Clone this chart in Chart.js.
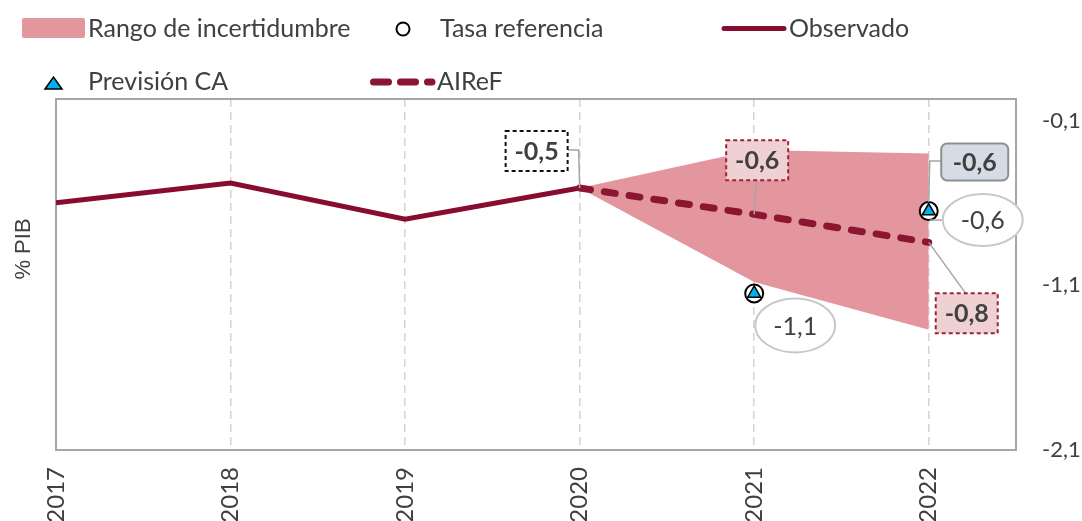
<!DOCTYPE html>
<html>
<head>
<meta charset="utf-8">
<script src="https://cdn.jsdelivr.net/npm/chart.js@4/dist/chart.umd.min.js"></script>
<style>
    html, body { margin: 0; padding: 0; background: #fff; }
    #wrap { width: 1082px; height: 521px; }
</style>
</head>
<body>
<div id="wrap"><canvas id="deficitChart" width="1082" height="521"></canvas></div>
<script>
"use strict";

// years on the x axis
const years = [2017, 2018, 2019, 2020, 2021, 2022];
// Observado, 2017-2020
const obsYears = [2017, 2018, 2019, 2020];
const observado = [-0.60, -0.48, -0.70, -0.51];
// AIReF forecast and uncertainty band, 2020-2022
const fcYears = [2020, 2021, 2022];
const aireF = [-0.51, -0.67, -0.84];
const rangoSup = [-0.51, -0.28, -0.30];
const rangoInf = [-0.51, -1.08, -1.37];
// Previsión CA and Tasa referencia, 2021-2022
const caYears = [2021, 2022];
const previsionCA = [-1.15, -0.65];
const tasaReferencia = [-1.15, -0.65];
// right axis ticks
const yTicks = [-0.1, -1.1, -2.1];
// callout texts
const lblObs2020 = '-0,5';
const lblAiref = ['-0,6', '-0,8'];
const lblCA2022 = '-0,6';
const lblTasa = ['-1,1', '-0,6'];

const FONT = 'Lato, "Open Sans", sans-serif';
const TXT = '#404040';
const BAND = '#e3969e';
const OBS = '#870c2f';
const AIREF = '#8c1632';
const CA_BLUE = '#00b0f0';

const pts = (xs, ys) => xs.map((x, i) => ({ x: x, y: ys[i] }));

function roundRect(ctx, x, y, w, h, r) {
    ctx.beginPath();
    ctx.moveTo(x + r, y);
    ctx.arcTo(x + w, y, x + w, y + h, r);
    ctx.arcTo(x + w, y + h, x, y + h, r);
    ctx.arcTo(x, y + h, x, y, r);
    ctx.arcTo(x, y, x + w, y, r);
    ctx.closePath();
}

const frame = {
    id: 'frame',
    beforeDatasetsDraw(chart) {
        const { ctx, chartArea: a } = chart;
        ctx.save();
        ctx.strokeStyle = '#a6a6a6';
        ctx.lineWidth = 2;
        ctx.strokeRect(a.left, a.top, a.right - a.left, a.bottom - a.top);
        ctx.restore();
    }
};

const callouts = {
    id: 'callouts',
    afterDatasetsDraw(chart) {
        const { ctx, scales: { x, y } } = chart;
        const P = (xv, yv) => ({ x: x.getPixelForValue(xv), y: y.getPixelForValue(yv) });

        const leader = (path) => {
            ctx.save();
            ctx.strokeStyle = '#a6a6a6';
            ctx.lineWidth = 1.5;
            ctx.beginPath();
            path.forEach((p, i) => i ? ctx.lineTo(p[0], p[1]) : ctx.moveTo(p[0], p[1]));
            ctx.stroke();
            ctx.restore();
        };

        const box = (cx, cy, w, h, text, style) => {
            ctx.save();
            const l = cx - w / 2, t = cy - h / 2;
            if (style === 'blue') {
                roundRect(ctx, l, t, w, h, 6);
                ctx.fillStyle = '#d6dce5';
                ctx.fill();
                ctx.strokeStyle = '#8f8f8f';
                ctx.lineWidth = 2;
                ctx.stroke();
            } else {
                ctx.fillStyle = style === 'red' ? '#efd0d3' : '#fff';
                ctx.fillRect(l, t, w, h);
                ctx.strokeStyle = style === 'red' ? '#9b2335' : '#111';
                ctx.lineWidth = 2;
                ctx.setLineDash([4, 3]);
                ctx.strokeRect(l, t, w, h);
            }
            ctx.setLineDash([]);
            ctx.fillStyle = TXT;
            ctx.font = 'bold 25px ' + FONT;
            ctx.textAlign = 'center';
            ctx.textBaseline = 'middle';
            ctx.fillText(text, cx, cy + 1);
            ctx.restore();
        };

        const oval = (cx, cy, rx, ry, text) => {
            ctx.save();
            ctx.beginPath();
            ctx.ellipse(cx, cy, rx, ry, 0, 0, Math.PI * 2);
            ctx.fillStyle = '#fff';
            ctx.fill();
            ctx.strokeStyle = '#c8c8c8';
            ctx.lineWidth = 2;
            ctx.stroke();
            ctx.fillStyle = TXT;
            ctx.font = '25px ' + FONT;
            ctx.textAlign = 'center';
            ctx.textBaseline = 'middle';
            ctx.fillText(text, cx, cy + 1);
            ctx.restore();
        };

        // -0,5 on Observado 2020
        let a = P(2020, observado[3]);
        let bx = a.x - 43, by = a.y - 37;
        leader([[bx + 31, by - 1], [a.x - 1, by - 1], [a.x, a.y]]);
        box(bx, by, 62, 40, lblObs2020, 'black');

        // AIReF 2021
        a = P(2021, aireF[1]);
        bx = a.x + 3; by = a.y - 54;
        leader([[bx - 1, by + 20], [a.x, a.y]]);
        box(bx, by, 62, 40, lblAiref[0], 'red');

        // AIReF 2022
        a = P(2022, aireF[2]);
        bx = a.x + 38; by = a.y + 71;
        leader([[a.x, a.y], [bx - 1, by - 20]]);
        box(bx, by, 62, 40, lblAiref[1], 'red');

        // Previsión CA 2022
        a = P(2022, previsionCA[1]);
        bx = a.x + 46; by = a.y - 49;
        leader([[bx - 33, by - 1], [a.x + 1, by - 1], [a.x, a.y - 9]]);
        box(bx, by, 67, 37, lblCA2022, 'blue');

        // Tasa referencia 2022
        a = P(2022, tasaReferencia[1]);
        leader([[a.x + 1, a.y + 9], [a.x + 15, a.y + 9]]);
        oval(a.x + 54, a.y + 9, 40, 26, lblTasa[1]);

        // Tasa referencia 2021
        a = P(2021, tasaReferencia[0]);
        oval(a.x + 41, a.y + 32, 40, 27, lblTasa[0]);
    }
};

const legendAndTitle = {
    id: 'legendAndTitle',
    afterDraw(chart) {
        const ctx = chart.ctx;
        ctx.save();
        ctx.font = '25px ' + FONT;
        ctx.fillStyle = TXT;
        ctx.textBaseline = 'alphabetic';
        ctx.textAlign = 'left';

        // Rango de incertidumbre
        ctx.fillStyle = BAND;
        roundRect(ctx, 22, 18, 63, 20, 2);
        ctx.fill();
        ctx.fillStyle = TXT;
        ctx.fillText('Rango de incertidumbre', 88, 37);

        // Tasa referencia
        ctx.beginPath();
        ctx.arc(403, 29, 6.5, 0, Math.PI * 2);
        ctx.strokeStyle = '#000';
        ctx.lineWidth = 2;
        ctx.stroke();
        ctx.fillText('Tasa referencia', 440, 37);

        // Observado
        ctx.beginPath();
        ctx.moveTo(724, 28.5);
        ctx.lineTo(784, 28.5);
        ctx.strokeStyle = OBS;
        ctx.lineWidth = 5;
        ctx.lineCap = 'round';
        ctx.stroke();
        ctx.fillText('Observado', 789, 37);

        // Previsión CA
        ctx.beginPath();
        ctx.moveTo(45, 89);
        ctx.lineTo(53.5, 77);
        ctx.lineTo(62, 89);
        ctx.closePath();
        ctx.fillStyle = CA_BLUE;
        ctx.fill();
        ctx.strokeStyle = '#000';
        ctx.lineWidth = 1.5;
        ctx.lineCap = 'butt';
        ctx.stroke();
        ctx.fillStyle = TXT;
        ctx.fillText('Previsión CA', 88, 90);

        // AIReF
        ctx.beginPath();
        ctx.moveTo(373.5, 82);
        ctx.lineTo(432, 82);
        ctx.strokeStyle = AIREF;
        ctx.lineWidth = 7;
        ctx.lineCap = 'round';
        ctx.setLineDash([15, 12]);
        ctx.stroke();
        ctx.setLineDash([]);
        ctx.fillText('AIReF', 437, 90);

        // y axis title on the left
        ctx.translate(30, 249);
        ctx.rotate(-Math.PI / 2);
        ctx.font = '22px "Liberation Sans", Arial, sans-serif';
        ctx.textAlign = 'center';
        ctx.textBaseline = 'alphabetic';
        ctx.fillText('% PIB', 0, 0);
        ctx.restore();
    }
};

document.addEventListener('DOMContentLoaded', function () {
    const canvas = document.getElementById('deficitChart');

    new Chart(canvas, {
        type: 'line',
        data: {
            datasets: [{
                label: 'Rango sup',
                data: pts(fcYears, rangoSup),
                borderWidth: 0,
                pointRadius: 0,
                backgroundColor: BAND,
                fill: '+1',
                order: 5
            }, {
                label: 'Rango inf',
                data: pts(fcYears, rangoInf),
                borderWidth: 0,
                pointRadius: 0,
                fill: false,
                order: 5
            }, {
                label: 'Observado',
                data: pts(obsYears, observado),
                borderColor: OBS,
                borderWidth: 5,
                pointRadius: 0,
                fill: false,
                order: 3
            }, {
                label: 'AIReF',
                data: pts(fcYears, aireF),
                borderColor: AIREF,
                borderWidth: 7,
                borderDash: [11, 14],
                borderCapStyle: 'round',
                pointRadius: 0,
                fill: false,
                order: 2
            }, {
                label: 'Tasa referencia',
                data: pts(caYears, tasaReferencia),
                showLine: false,
                pointStyle: 'circle',
                pointRadius: 9,
                pointBackgroundColor: '#fff',
                pointBorderColor: '#000',
                pointBorderWidth: 2,
                order: 1
            }, {
                label: 'Previsión CA',
                data: pts(caYears, previsionCA),
                showLine: false,
                pointStyle: 'triangle',
                pointRadius: 7.5,
                pointBackgroundColor: CA_BLUE,
                pointBorderColor: '#000',
                pointBorderWidth: 1.5,
                order: 0
            }]
        },
        options: {
            responsive: false,
            animation: false,
            devicePixelRatio: 1,
            events: [],
            layout: {
                padding: { left: 56, top: 99, right: 0, bottom: 0 }
            },
            plugins: {
                legend: { display: false },
                tooltip: { enabled: false }
            },
            scales: {
                x: {
                    type: 'linear',
                    min: 2017,
                    max: 2022.5,
                    afterBuildTicks: (s) => { s.ticks = years.map(v => ({ value: v })); },
                    afterFit: (s) => { s.height = 71; },
                    grid: {
                        color: '#d4d4d4',
                        lineWidth: 1.5,
                        drawTicks: false
                    },
                    border: { display: false, dash: [8, 5] },
                    ticks: {
                        autoSkip: false,
                        minRotation: 90,
                        maxRotation: 90,
                        padding: 17,
                        color: TXT,
                        font: { family: FONT, size: 24 },
                        callback: (v) => String(v)
                    }
                },
                y: {
                    position: 'right',
                    min: -2.1,
                    max: 0.03,
                    afterBuildTicks: (s) => { s.ticks = yTicks.map(v => ({ value: v })); },
                    afterFit: (s) => { s.width = 66; },
                    grid: { display: false },
                    border: { display: false },
                    ticks: {
                        padding: 18,
                        color: TXT,
                        font: { family: FONT, size: 22 },
                        callback: (v) => v.toFixed(1).replace('.', ',')
                    }
                }
            }
        },
        plugins: [frame, callouts, legendAndTitle]
    });
});
</script>
</body>
</html>
